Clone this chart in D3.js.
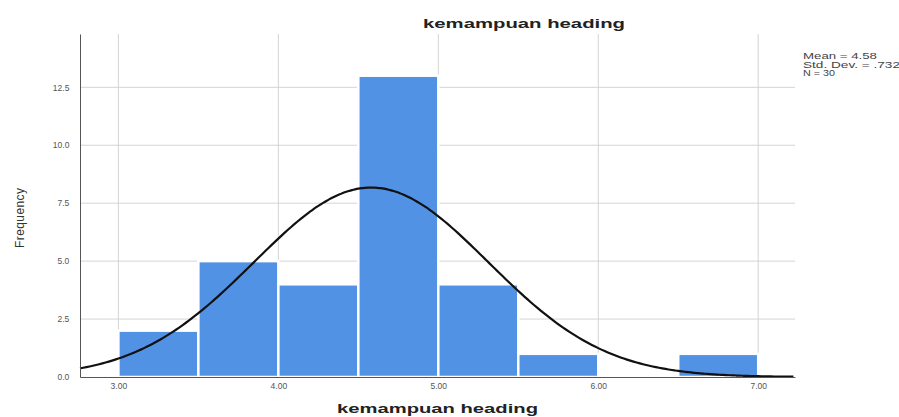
<!DOCTYPE html>
<html lang="en">
<head>
    <meta charset="UTF-8">
    <title>kemampuan heading</title>
    <script src="https://d3js.org/d3.v7.min.js"></script>
    <style>
        body { margin: 0; background: #fff; }
        svg text { font-family: "Liberation Sans", Arial, sans-serif; }
    </style>
</head>
<body>
    <div id="chart"></div>
    <script>
        // Histogram data (bin start, count)
        const binStarts = [3.0, 3.5, 4.0, 4.5, 5.0, 5.5, 6.0, 6.5];
        const binCounts = [2, 5, 4, 13, 4, 1, 0, 1];
        const binWidth = 0.5;

        const xTicks = [3, 4, 5, 6, 7];
        const yTicks = [0, 2.5, 5, 7.5, 10, 12.5];

        // Statistics shown in the legend (used for the fitted normal curve)
        const mean = 4.58;
        const stdDev = 0.732;
        const n = 30;

        const width = 899;
        const height = 417;
        const plot = { left: 80, right: 795, top: 34, bottom: 377 };

        const svg = d3.select("#chart")
            .append("svg")
            .attr("width", width)
            .attr("height", height);

        // Scales
        const x = d3.scaleLinear()
            .domain([2.76, 7.23])
            .range([plot.left, plot.right]);

        const y = d3.scaleLinear()
            .domain([0, 14.8])
            .range([plot.bottom, plot.top]);

        // Grid lines
        svg.append("g")
            .selectAll("line")
            .data(yTicks.slice(1))
            .enter()
            .append("line")
            .attr("x1", plot.left)
            .attr("x2", plot.right)
            .attr("y1", d => y(d))
            .attr("y2", d => y(d))
            .attr("stroke", "#d4d4d4")
            .attr("stroke-width", 1);

        svg.append("g")
            .selectAll("line")
            .data(xTicks)
            .enter()
            .append("line")
            .attr("x1", d => x(d))
            .attr("x2", d => x(d))
            .attr("y1", plot.top)
            .attr("y2", plot.bottom)
            .attr("stroke", "#d4d4d4")
            .attr("stroke-width", 1);

        // Bars
        const bins = binStarts.map((s, i) => ({ start: s, count: binCounts[i] }));
        svg.append("g")
            .selectAll("rect")
            .data(bins.filter(d => d.count > 0))
            .enter()
            .append("rect")
            .attr("x", d => x(d.start))
            .attr("y", d => y(d.count))
            .attr("width", d => x(d.start + binWidth) - x(d.start))
            .attr("height", d => y(0) - y(d.count))
            .attr("fill", "#5292e5")
            .attr("stroke", "#ffffff")
            .attr("stroke-width", 2.5);

        // Normal curve
        const curvePts = d3.range(2.76, 7.2301, 0.02).map(v => ({
            v: v,
            f: n * binWidth / (stdDev * Math.sqrt(2 * Math.PI)) *
               Math.exp(-0.5 * Math.pow((v - mean) / stdDev, 2))
        }));
        svg.append("path")
            .datum(curvePts)
            .attr("fill", "none")
            .attr("stroke", "#111")
            .attr("stroke-width", 2.2)
            .attr("d", d3.line().x(d => x(d.v)).y(d => y(d.f)).curve(d3.curveBasis));

        // Axes
        const xAxis = svg.append("g")
            .attr("transform", `translate(0,${plot.bottom})`)
            .call(d3.axisBottom(x).tickValues(xTicks).tickSize(0).tickFormat(d3.format(".2f")));
        xAxis.select(".domain").attr("stroke", "#555");
        xAxis.selectAll("text")
            .attr("dy", "1.1em")
            .attr("font-size", 8.5)
            .attr("fill", "#555");

        const yAxis = svg.append("g")
            .attr("transform", `translate(${plot.left},0)`)
            .call(d3.axisLeft(y).tickValues(yTicks).tickSize(0).tickFormat(d3.format(".1f")));
        yAxis.select(".domain").attr("stroke", "#555");
        yAxis.selectAll("text")
            .attr("dx", "-0.9em")
            .attr("font-size", 8.5)
            .attr("fill", "#555");

        // Titles
        svg.append("text")
            .attr("x", 423)
            .attr("y", 28)
            .attr("font-family", "DejaVu Sans")
            .attr("font-size", 12.5)
            .attr("font-weight", "bold")
            .attr("fill", "#222")
            .attr("textLength", 202)
            .attr("lengthAdjust", "spacingAndGlyphs")
            .text("kemampuan heading");

        svg.append("text")
            .attr("x", 337)
            .attr("y", 413)
            .attr("font-family", "DejaVu Sans")
            .attr("font-size", 13.5)
            .attr("font-weight", "bold")
            .attr("fill", "#222")
            .attr("textLength", 201)
            .attr("lengthAdjust", "spacingAndGlyphs")
            .text("kemampuan heading");

        svg.append("text")
            .attr("transform", `translate(24,218) rotate(-90)`)
            .attr("text-anchor", "middle")
            .attr("font-size", 12)
            .attr("fill", "#333")
            .attr("textLength", 60)
            .text("Frequency");

        // Legend statistics
        const legendLines = [
            "Mean = " + mean.toFixed(2),
            "Std. Dev. = " + stdDev.toFixed(3).replace(/^0/, ""),
            "N = " + n
        ];
        const legendWidths = [74, 97, 32];
        svg.append("g")
            .selectAll("text")
            .data(legendLines)
            .enter()
            .append("text")
            .attr("x", 803)
            .attr("y", (d, i) => 59 + i * 8.5)
            .attr("font-family", "DejaVu Sans")
            .attr("font-size", 8.5)
            .attr("fill", "#444")
            .attr("textLength", (d, i) => legendWidths[i])
            .attr("lengthAdjust", "spacingAndGlyphs")
            .text(d => d);
    </script>
</body>
</html>
